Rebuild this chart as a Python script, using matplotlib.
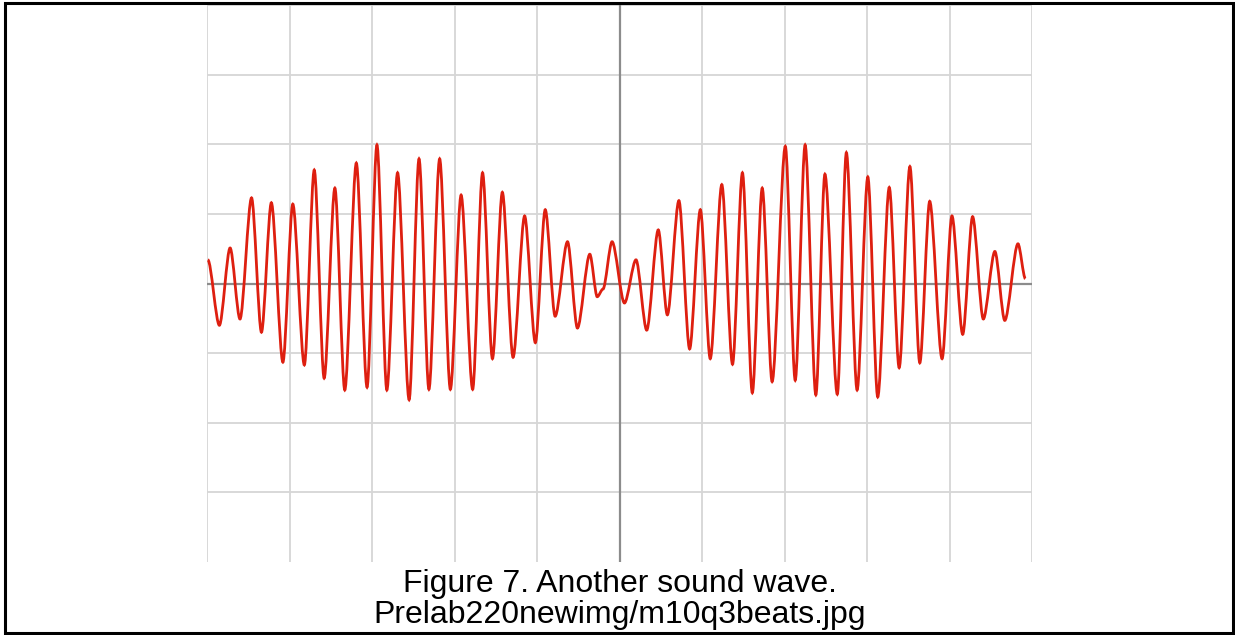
import matplotlib.pyplot as plt
from matplotlib.patches import Rectangle, PathPatch
from matplotlib.path import Path

# turning points of the wave (time in grid divisions, amplitude in grid divisions)
t = [0.01, 0.15, 0.28, 0.40, 0.54, 0.66, 0.78, 0.92, 1.04, 1.18,
     1.30, 1.42, 1.55, 1.67, 1.81, 1.94, 2.06, 2.18, 2.31, 2.45,
     2.57, 2.69, 2.82, 2.95, 3.08, 3.22, 3.34, 3.46, 3.58, 3.71,
     3.85, 3.98, 4.10, 4.22, 4.37, 4.49, 4.64, 4.73, 4.80, 4.91,
     5.06, 5.20, 5.33, 5.47, 5.58, 5.72, 5.85, 5.98, 6.10, 6.24,
     6.37, 6.49, 6.61, 6.73, 6.85, 7.01, 7.13, 7.25, 7.38, 7.49,
     7.64, 7.75, 7.88, 8.01, 8.13, 8.27, 8.39, 8.52, 8.64, 8.76,
     8.91, 9.03, 9.16, 9.28, 9.41, 9.55, 9.67, 9.83, 9.92]
amp = [0.34, -0.60, 0.51, -0.51, 1.23, -0.70, 1.16, -1.13, 1.14, -1.17,
       1.63, -1.36, 1.37, -1.53, 1.73, -1.49, 1.99, -1.53, 1.59, -1.67,
       1.79, -1.52, 1.79, -1.52, 1.27, -1.52, 1.59, -1.08, 1.31, -1.06,
       0.97, -0.85, 1.06, -0.47, 0.60, -0.64, 0.42, -0.19, -0.08, 0.60,
       -0.28, 0.34, -0.67, 0.77, -0.45, 1.19, -0.94, 1.06, -1.08, 1.42,
       -1.16, 1.59, -1.57, 1.37, -1.41, 1.97, -1.39, 1.99, -1.60, 1.57,
       -1.59, 1.88, -1.53, 1.53, -1.63, 1.38, -1.21, 1.68, -1.14, 1.18,
       -1.08, 0.97, -0.73, 0.96, -0.51, 0.46, -0.53, 0.57, 0.07]

caption1 = "Figure 7. Another sound wave."
caption2 = "Prelab220newimg/m10q3beats.jpg"

fig = plt.figure(figsize=(12.35, 6.35), dpi=100)
ax = fig.add_axes([207 / 1235, 1 - 562 / 635, 825 / 1235, 557 / 635])

# smooth curve through the turning points (flat tangent at each one)
verts = [(t[0], amp[0])]
codes = [Path.MOVETO]
for i in range(1, len(t)):
    d = (t[i] - t[i - 1]) * 0.3
    verts += [(t[i - 1] + d, amp[i - 1]), (t[i] - d, amp[i]), (t[i], amp[i])]
    codes += [Path.CURVE4] * 3
wave = PathPatch(Path(verts, codes), facecolor='none', edgecolor='#de1f10',
                 linewidth=2.0, zorder=3)
ax.add_patch(wave)

ax.set_xlim(0, 10)
ax.set_ylim(-4, 4)
ax.set_xticks(range(0, 11))
ax.set_yticks(range(-3, 5))
ax.grid(True, color='#d6d6d6', linewidth=1.3)
ax.axhline(0, color='#8c8c8c', linewidth=1.6, zorder=2)
ax.axvline(5, color='#8c8c8c', linewidth=1.6, zorder=2)
ax.tick_params(length=0, labelbottom=False, labelleft=False)
for s in ax.spines.values():
    s.set_visible(False)

# black frame round the whole picture
fig.patches.append(Rectangle((4.5 / 1235, 2.5 / 635), 1228 / 1235, 629.5 / 635,
                             transform=fig.transFigure, fill=False,
                             edgecolor='black', linewidth=2.2))

fig.text(0.502, 1 - 592 / 635, caption1, ha='center', va='baseline',
         fontsize=23, family='Liberation Sans')
fig.text(0.502, 1 - 623 / 635, caption2, ha='center', va='baseline',
         fontsize=23, family='Liberation Sans')

plt.savefig("out.png", dpi=100)
plt.close()
